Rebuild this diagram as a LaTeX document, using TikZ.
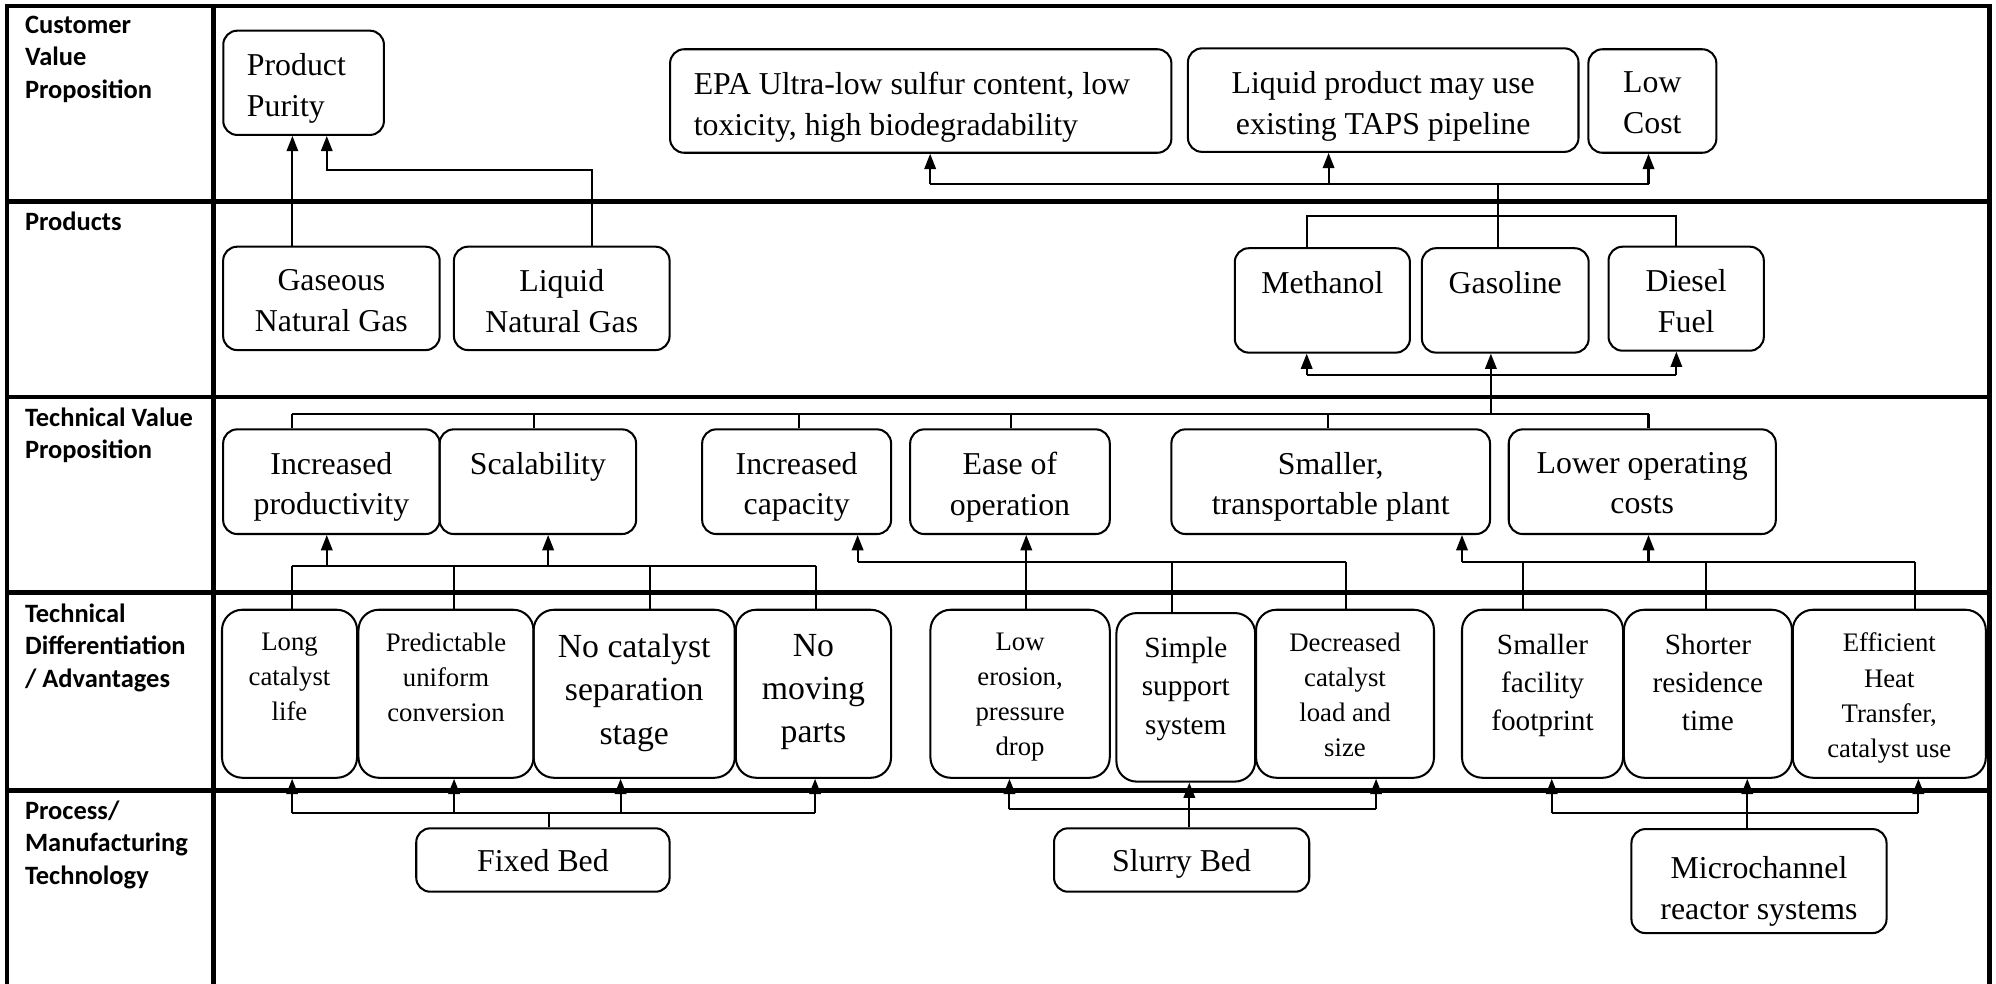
\documentclass[tikz,border=0pt]{standalone}
\usepackage{fontspec}
\setmainfont{Liberation Serif}
\newfontfamily\lblfont{Carlito}
\usetikzlibrary{arrows.meta}
\newcommand\mkbox[9]{%
  \node[#6, minimum width={#4-#2}, minimum height={#5-#3}] (#1) at ({(#2+#4)/2},{(#3+#5)/2}) {};
  \node[#7, anchor=north] (#1t) at ([yshift=-#8pt]#1.north) {#9};}
\tikzset{
  box/.style={draw, line width=1.6pt, rounded corners=11pt, inner sep=0pt},
  tbox/.style={box, rounded corners=16pt},
  fA/.style={font=\fontsize{25}{32}\selectfont, align=center, inner sep=0pt},
  fS/.style={font=\fontsize{21}{27.5}\selectfont, align=center, inner sep=0pt},
  fL/.style={font=\fontsize{26.5}{34}\selectfont, align=center, inner sep=0pt},
  fM/.style={font=\fontsize{23}{30}\selectfont, align=center, inner sep=0pt},
  lbl/.style={font=\lblfont\bfseries\fontsize{20.8}{25.5}\selectfont, align=left, inner sep=0pt, anchor=north west},
  frame/.style={line width=3.6pt},
  conn/.style={line width=1.6pt},
  arr/.style={conn, -{Triangle[length=12pt,width=9pt]}}
}
\begin{document}
\begin{tikzpicture}[x=1pt,y=-1pt]
\useasboundingbox (0,0) rectangle (1568,773);
% frame
\draw[frame] (5.5,773) -- (5.5,4.7) -- (1563,4.7) -- (1563,773);
\draw[frame] (167.6,4.7) -- (167.6,773);
\draw[frame] (5.5,158.4) -- (1563,158.4);
\draw[frame] (5.5,311.8) -- (1563,311.8);
\draw[frame] (5.5,465.6) -- (1563,465.6);
\draw[frame] (5.5,621) -- (1563,621);
% row labels
\node[lbl] (l1) at (19.5,12.2) {Customer\\Value\\Proposition};
\node[lbl] (l2) at (19.5,166) {Products};
\node[lbl] (l3) at (19.5,319.9) {Technical Value\\Proposition};
\node[lbl] (l4) at (19.5,473.9) {Technical\\Differentiation\\/ Advantages};
\node[lbl] (l5) at (19.5,628.9) {Process/\\Manufacturing\\Technology};
% row 1
\node[box, minimum width=126.2, minimum height=81.9] (pp) at (238.5,65.05) {};
\node[fA, align=left, anchor=north west] (ppt) at ([xshift=19.2pt,yshift=-18.8pt]pp.north west) {Product\\Purity};
\node[box, minimum width=393.8, minimum height=81.3] (epa) at (723.3,79.35) {};
\node[fA, align=left, anchor=north west] (epat) at ([xshift=19.2pt,yshift=-18.5pt]epa.north west) {EPA Ultra-low sulfur content, low\\toxicity, high biodegradability};
\mkbox{liq}{933.2}{38}{1240}{119.3}{box}{fA}{18.7}{Liquid product may use\\existing TAPS pipeline}
\mkbox{lc}{1247.8}{38.7}{1348.3}{120}{box}{fA}{18.5}{Low\\Cost}
% row 2
\mkbox{gng}{175.3}{193.8}{345.4}{275}{box}{fA}{18.7}{Gaseous\\Natural Gas}
\mkbox{lng}{356.6}{193.8}{526}{275}{box}{fA}{18.7}{Liquid\\Natural Gas}
\mkbox{meth}{970}{195}{1107.6}{277}{box}{fA}{18.7}{Methanol}
\mkbox{gaso}{1117}{195}{1248}{277}{box}{fA}{18.7}{Gasoline}
\mkbox{dies}{1263.6}{193.8}{1385.6}{275.5}{box}{fA}{18.3}{Diesel\\Fuel}
% row 3
\mkbox{ip}{175.3}{337.3}{345.4}{419.5}{box}{fA}{18.5}{Increased\\productivity}
\mkbox{sca}{345.4}{337.3}{499.7}{419.5}{box}{fA}{18.5}{Scalability}
\mkbox{ic}{551.6}{337.3}{700}{419.5}{box}{fA}{18.5}{Increased\\capacity}
\mkbox{eo}{715}{337.3}{871.8}{419.5}{box}{fA}{18.5}{Ease of\\operation}
\mkbox{stp}{920.2}{337.3}{1170.5}{419.5}{box}{fA}{18.5}{Smaller,\\transportable plant}
\mkbox{loc}{1185.2}{337.3}{1395}{419.5}{box}{fA}{18.5}{Lower operating\\costs}
% row 4
\mkbox{lcl}{174.4}{479}{280.5}{611}{tbox}{fS}{19}{Long\\catalyst\\life}
\mkbox{puc}{281.6}{479}{419.1}{611}{tbox}{fS}{19}{Predictable\\uniform\\conversion}
\mkbox{ncs}{419.2}{479}{577.2}{611}{tbox}{fL}{19.7}{No catalyst\\separation\\stage}
\mkbox{nmp}{578}{479}{700}{611}{tbox}{fL}{19.7}{No\\moving\\parts}
\mkbox{lep}{730.9}{479}{871.8}{611}{tbox}{fS}{19}{Low\\erosion,\\pressure\\drop}
\mkbox{sss}{877}{481.6}{986}{614}{tbox}{fM}{19.7}{Simple\\support\\system}
\mkbox{dcl}{986.7}{479}{1126.5}{611}{tbox}{fS}{19}{Decreased\\catalyst\\load and\\size}
\mkbox{sff}{1148.5}{479}{1275}{611}{tbox}{fM}{19.7}{Smaller\\facility\\footprint}
\mkbox{srt}{1275.7}{479}{1407.7}{611}{tbox}{fM}{19.7}{Shorter\\residence\\time}
\mkbox{eht}{1408.3}{479}{1560}{611}{tbox}{fS}{19}{Efficient\\Heat\\Transfer,\\catalyst use}
% row 5
\mkbox{fb}{327}{650.7}{526}{700.5}{box}{fA}{17.5}{Fixed Bed}
\mkbox{sb}{828}{650.7}{1028.5}{700.5}{box}{fA}{17.5}{Slurry Bed}
\mkbox{mrs}{1281.6}{651.3}{1482}{733}{box}{fA}{22}{Microchannel\\reactor systems}
% connectors: products -> customer value
\coordinate (a1) at (229.7,0);
\draw[arr] (gng.north -| a1) -- (pp.south -| a1);
\coordinate (lp1) at (465.4,133.5);
\coordinate (lp2) at (256.7,133.5);
\draw[arr] (lng.north -| lp1) -- (lp1) -- (lp2) -- (pp.south -| lp2);
\coordinate (tb0) at (1176.5,144.5);
\coordinate (tb1) at (730.7,144.5);
\coordinate (tb2) at (1043.7,144.5);
\coordinate (tb3) at (1295,144.5);
\draw[conn] (tb1) -- (tb3);
\draw[arr] (tb1) -- (epa.south -| tb1);
\draw[arr] (tb2) -- (liq.south -| tb2);
\draw[arr] (tb3) -- (lc.south -| tb3);
\coordinate (pb1) at (1027,170);
\coordinate (pb3) at (1316.9,170);
\draw[conn] (meth.north -| pb1) -- (pb1) -- (pb3) -- (dies.north -| pb3);
\draw[conn] (gaso.north -| tb0) -- (tb0);
% tech value -> products
\coordinate (qb1) at (1026.5,294.6);
\coordinate (qb2) at (1171.2,294.6);
\coordinate (qb3) at (1316.9,294.6);
\coordinate (rb0) at (1171.2,325.2);
\draw[conn] (qb1) -- (qb3);
\draw[arr] (qb1) -- (meth.south -| qb1);
\draw[arr] (qb2) -- (gaso.south -| qb2);
\draw[arr] (qb3) -- (dies.south -| qb3);
\draw[conn] (qb2) -- (rb0);
\coordinate (r1) at (229.7,325.2);
\coordinate (r2) at (419.8,325.2);
\coordinate (r3) at (627.4,325.2);
\coordinate (r4) at (794,325.2);
\coordinate (r5) at (1043,325.2);
\coordinate (r6) at (1295,325.2);
\draw[conn] (r1) -- (r6);
\draw[conn] (r1) -- (ip.north -| r1);
\draw[conn] (r2) -- (sca.north -| r2);
\draw[conn] (r3) -- (ic.north -| r3);
\draw[conn] (r4) -- (eo.north -| r4);
\draw[conn] (r5) -- (stp.north -| r5);
\draw[conn] (r6) -- (loc.north -| r6);
% group A
\coordinate (ga1) at (229.7,444.4);
\coordinate (ga2) at (256.7,444.4);
\coordinate (ga3) at (357,444.4);
\coordinate (ga4) at (430.6,444.4);
\coordinate (ga5) at (510.3,444.4);
\coordinate (ga6) at (641,444.4);
\draw[conn] (ga1) -- (ga6);
\draw[arr] (ga2) -- (ip.south -| ga2);
\draw[arr] (ga4) -- (sca.south -| ga4);
\draw[conn] (ga1) -- (lcl.north -| ga1);
\draw[conn] (ga3) -- (puc.north -| ga3);
\draw[conn] (ga5) -- (ncs.north -| ga5);
\draw[conn] (ga6) -- (nmp.north -| ga6);
% group B
\coordinate (gb1) at (673.7,441.2);
\coordinate (gb2) at (920.9,441.2);
\coordinate (gb3) at (1057.6,441.2);
\draw[conn] (gb1) -- (gb3);
\draw[arr] (gb1) -- (ic.south -| gb1);
\draw[conn] (gb2) -- (sss.north -| gb2);
\draw[conn] (gb3) -- (dcl.north -| gb3);
\coordinate (le) at (806.2,0);
\draw[arr] (lep.north -| le) -- (eo.south -| le);
% group C
\coordinate (gc1) at (1148.5,441.2);
\coordinate (gc2) at (1196.6,441.2);
\coordinate (gc3) at (1295,441.2);
\coordinate (gc4) at (1340.2,441.2);
\coordinate (gc5) at (1504,441.2);
\draw[conn] (gc1) -- (gc5);
\draw[arr] (gc1) -- (stp.south -| gc1);
\draw[arr] (gc3) -- (loc.south -| gc3);
\draw[conn] (gc2) -- (sff.north -| gc2);
\draw[conn] (gc4) -- (srt.north -| gc4);
\draw[conn] (gc5) -- (eht.north -| gc5);
% fixed bed
\coordinate (fa1) at (229.5,639);
\coordinate (fa2) at (356.7,639);
\coordinate (fa3) at (430.9,639);
\coordinate (fa4) at (487.5,639);
\coordinate (fa5) at (640.3,639);
\draw[conn] (fa1) -- (fa5);
\draw[conn] (fb.north -| fa3) -- (fa3);
\draw[arr] (fa1) -- (lcl.south -| fa1);
\draw[arr] (fa2) -- (puc.south -| fa2);
\draw[arr] (fa4) -- (ncs.south -| fa4);
\draw[arr] (fa5) -- (nmp.south -| fa5);
% slurry bed
\coordinate (sa1) at (793,635.8);
\coordinate (sa2) at (934.3,635.8);
\coordinate (sa3) at (1081,635.8);
\draw[conn] (sa1) -- (sa3);
\draw[arr] (sb.north -| sa2) -- (sss.south -| sa2);
\draw[arr] (sa1) -- (lep.south -| sa1);
\draw[arr] (sa3) -- (dcl.south -| sa3);
% microchannel
\coordinate (ma1) at (1219,639);
\coordinate (ma2) at (1372.6,639);
\coordinate (ma3) at (1507,639);
\draw[conn] (ma1) -- (ma3);
\draw[arr] (mrs.north -| ma2) -- (srt.south -| ma2);
\draw[arr] (ma1) -- (sff.south -| ma1);
\draw[arr] (ma3) -- (eht.south -| ma3);
\end{tikzpicture}
\end{document}
